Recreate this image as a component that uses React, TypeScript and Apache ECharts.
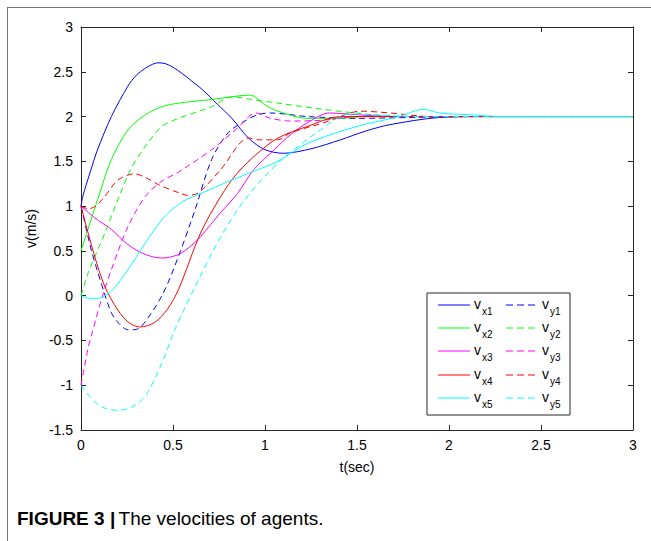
import React, { useEffect, useRef } from "react";
import * as echarts from "echarts";

const xTicks = [0, 0.5, 1, 1.5, 2, 2.5, 3];
const yTicks = [-1.5, -1, -0.5, 0, 0.5, 1, 1.5, 2, 2.5, 3];

const vx1 = [[0,1],[0.01,1.11],[0.05,1.38],[0.09,1.63],[0.165,2.0],[0.255,2.34],[0.3,2.46],[0.35,2.54],[0.39,2.585],[0.42,2.6],[0.46,2.59],[0.5,2.55],[0.55,2.48],[0.6,2.4],[0.66,2.3],[0.74,2.14],[0.82,1.98],[0.91,1.76],[1.0,1.63],[1.1,1.59],[1.25,1.64],[1.41,1.74],[1.55,1.84],[1.68,1.91],[1.95,1.99],[2.2,2.0],[3,2]];
const vy1 = [[0,1],[0.056,0.51],[0.11,0.14],[0.165,-0.19],[0.21,-0.32],[0.255,-0.38],[0.29,-0.38],[0.33,-0.34],[0.44,0.0],[0.53,0.44],[0.62,0.96],[0.71,1.52],[0.8,1.82],[0.89,1.95],[0.96,2.02],[1.03,2.04],[1.23,2.0],[1.5,1.98],[1.8,1.99],[2.1,2.0],[3,2]];
const vx2 = [[0,0.5],[0.05,0.82],[0.09,1.07],[0.165,1.52],[0.255,1.85],[0.35,2.02],[0.44,2.11],[0.53,2.15],[0.71,2.19],[0.92,2.24],[1.0,2.13],[1.07,2.06],[1.23,1.98],[1.4,1.98],[1.55,2.0],[3,2]];
const vy2 = [[0,0],[0.04,0.26],[0.13,0.7],[0.2,1.07],[0.27,1.41],[0.35,1.67],[0.44,1.89],[0.53,1.98],[0.71,2.11],[0.82,2.22],[0.93,2.19],[1.07,2.15],[1.32,2.08],[1.59,2.02],[1.8,2.0],[3,2]];
const vx3 = [[0,1],[0.074,0.87],[0.165,0.74],[0.255,0.57],[0.35,0.46],[0.44,0.42],[0.53,0.46],[0.6,0.56],[0.65,0.66],[0.76,0.93],[0.85,1.14],[0.94,1.41],[1.05,1.63],[1.14,1.8],[1.23,1.93],[1.35,2.04],[1.5,2.02],[1.7,2.0],[3,2]];
const vy3 = [[0,-1],[0.04,-0.57],[0.056,-0.45],[0.11,-0.05],[0.165,0.29],[0.255,0.77],[0.35,1.11],[0.44,1.28],[0.53,1.38],[0.71,1.63],[0.85,1.87],[0.95,2.04],[1.03,1.98],[1.14,1.95],[1.32,1.96],[1.5,2.0],[3,2]];
const vx4 = [[0,1],[0.074,0.44],[0.13,0.1],[0.2,-0.16],[0.26,-0.3],[0.32,-0.35],[0.4,-0.3],[0.47,-0.15],[0.53,0.07],[0.65,0.7],[0.76,1.11],[0.85,1.37],[0.96,1.59],[1.07,1.76],[1.23,1.89],[1.41,2.0],[1.6,2.0],[3,2]];
const vy4 = [[0,1],[0.04,0.97],[0.08,1.0],[0.13,1.11],[0.2,1.29],[0.29,1.36],[0.35,1.32],[0.42,1.24],[0.53,1.15],[0.58,1.12],[0.64,1.15],[0.76,1.41],[0.91,1.76],[0.97,1.74],[1.07,1.74],[1.14,1.82],[1.32,1.93],[1.52,2.06],[1.68,2.04],[1.9,2.0],[3,2]];
const vx5 = [[0,0],[0.05,-0.03],[0.09,-0.03],[0.165,0.05],[0.255,0.29],[0.35,0.59],[0.44,0.85],[0.5,0.97],[0.56,1.06],[0.65,1.14],[0.75,1.23],[0.89,1.35],[1.07,1.5],[1.23,1.7],[1.5,1.89],[1.73,2.0],[1.86,2.08],[1.95,2.04],[2.11,2.02],[2.3,2.0],[3,2]];
const vy5 = [[0,-1],[0.05,-1.13],[0.11,-1.24],[0.2,-1.28],[0.27,-1.25],[0.35,-1.12],[0.44,-0.75],[0.51,-0.38],[0.62,0.1],[0.76,0.66],[0.89,1.07],[1.07,1.48],[1.3,1.85],[1.46,2.03],[1.6,2.02],[1.8,2.0],[3,2]];

const seriesDefs = [
  { name: "vx1", sub: "x1", data: vx1, color: "#0000ff", dashed: false },
  { name: "vy1", sub: "y1", data: vy1, color: "#0000ff", dashed: true },
  { name: "vx2", sub: "x2", data: vx2, color: "#00ff00", dashed: false },
  { name: "vy2", sub: "y2", data: vy2, color: "#00ff00", dashed: true },
  { name: "vx3", sub: "x3", data: vx3, color: "#ff00ff", dashed: false },
  { name: "vy3", sub: "y3", data: vy3, color: "#ff00ff", dashed: true },
  { name: "vx4", sub: "x4", data: vx4, color: "#ff0000", dashed: false },
  { name: "vy4", sub: "y4", data: vy4, color: "#ff0000", dashed: true },
  { name: "vx5", sub: "x5", data: vx5, color: "#00ffff", dashed: false },
  { name: "vy5", sub: "y5", data: vy5, color: "#00ffff", dashed: true },
];

const FONT = "Liberation Sans";
const AXIS = "#262626";

function buildLegend() {
  const els: any[] = [];
  els.push({
    type: "rect",
    shape: { x: 427, y: 293, width: 143, height: 122 },
    style: { fill: "#fff", stroke: AXIS, lineWidth: 1 },
    z: 100,
  });
  const rows = [305, 328, 351, 375, 398];
  seriesDefs.forEach((s, i) => {
    const row = rows[Math.floor(i / 2)];
    const col = i % 2;
    const x0 = col === 0 ? 438 : 506;
    els.push({
      type: "line",
      shape: { x1: x0, y1: row, x2: x0 + 32, y2: row },
      style: { stroke: s.color, lineWidth: 1, lineDash: s.dashed ? [7, 4] : null },
      z: 101,
    });
    els.push({
      type: "text",
      x: x0 + 36,
      y: row - 1,
      style: { text: "v", font: `14px '${FONT}'`, fill: "#000", verticalAlign: "middle" },
      z: 101,
    });
    els.push({
      type: "text",
      x: x0 + 44,
      y: row + 6,
      style: { text: s.sub, font: `10px '${FONT}'`, fill: "#000", verticalAlign: "middle" },
      z: 101,
    });
  });
  return els;
}

export default function App() {
  const ref = useRef<HTMLDivElement>(null);
  useEffect(() => {
    if (!ref.current) return;
    const chart = echarts.init(ref.current, null, { renderer: "svg" });
    const axisCommon = {
      type: "value",
      axisLine: { show: true, onZero: false, lineStyle: { color: AXIS, width: 1 } },
      axisTick: { show: true, inside: true, length: 5, lineStyle: { color: AXIS } },
      splitLine: { show: false },
    };
    chart.setOption({
      animation: false,
      backgroundColor: "#fff",
      textStyle: { fontFamily: FONT },
      grid: { left: 81, top: 27, width: 552, height: 403, containLabel: false },
      xAxis: [
        {
          ...axisCommon,
          position: "bottom",
          min: 0,
          max: 3,
          interval: 0.5,
          name: "t(sec)",
          nameLocation: "middle",
          nameGap: 30,
          nameTextStyle: { fontSize: 14, color: "#000", fontFamily: FONT },
          axisLabel: { fontSize: 14, color: "#000", margin: 8, fontFamily: FONT, formatter: (v: number) => (xTicks.includes(v) ? String(v) : "") },
        },
        {
          ...axisCommon,
          position: "top",
          min: 0,
          max: 3,
          interval: 0.5,
          axisLabel: { show: false },
        },
      ],
      yAxis: [
        {
          ...axisCommon,
          position: "left",
          min: -1.5,
          max: 3,
          interval: 0.5,
          name: "v(m/s)",
          nameLocation: "middle",
          nameGap: 40,
          nameRotate: 90,
          nameTextStyle: { fontSize: 14, color: "#000", fontFamily: FONT },
          axisLabel: { fontSize: 14, color: "#000", margin: 8, fontFamily: FONT, formatter: (v: number) => (yTicks.includes(v) ? String(v) : "") },
        },
        {
          ...axisCommon,
          position: "right",
          min: -1.5,
          max: 3,
          interval: 0.5,
          axisLabel: { show: false },
        },
      ],
      series: seriesDefs.map((s) => ({
        name: s.name,
        type: "line",
        data: s.data,
        symbol: "none",
        smooth: 0.3,
        clip: true,
        lineStyle: { color: s.color, width: 1, type: s.dashed ? [6, 4] : "solid" },
        itemStyle: { color: s.color },
      })),
      graphic: [
        { type: "line", shape: { x1: 7, y1: 7.5, x2: 651, y2: 7.5 }, style: { stroke: "#777", lineWidth: 1 } },
        { type: "line", shape: { x1: 7.5, y1: 7, x2: 7.5, y2: 541 }, style: { stroke: "#777", lineWidth: 1 } },
        ...buildLegend(),
        {
          type: "text",
          x: 17,
          y: 518,
          style: {
            text: "{b|FIGURE 3 |} {n|The velocities of agents.}",
            verticalAlign: "middle",
            rich: {
              b: { font: `bold 19px '${FONT}'`, fill: "#000" },
              n: { font: `19px '${FONT}'`, fill: "#000" },
            },
          },
        },
      ],
    });
    return () => chart.dispose();
  }, []);
  return <div ref={ref} style={{ width: 651, height: 541, position: "absolute", left: 0, top: 0 }} />;
}
